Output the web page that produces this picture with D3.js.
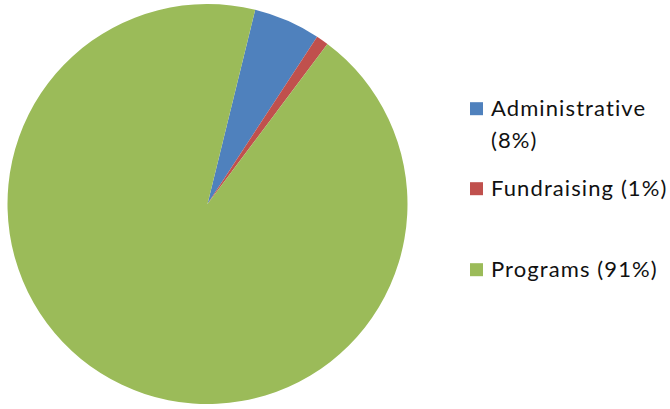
<!DOCTYPE html>
<html><head><meta charset="utf-8">
<script src="https://cdn.jsdelivr.net/npm/d3@7"></script>
<style>body{margin:0;background:#fff}svg{display:block}</style>
</head><body>
<script>
const categories = ["Administrative", "Fundraising", "Programs"];
const legendLabels = [["Administrative", "(8%)"], ["Fundraising (1%)"], ["Programs (91%)"]];
const values = [5.4, 1.0, 93.6];
const colors = ["#4F81BD", "#C0504D", "#9BBB59"];

const W = 670, H = 409;
const cx = 207.5, cy = 204, R = 200;
const startDeg = 13.8;

const svg = d3.select("body").append("svg").attr("width", W).attr("height", H);

const pie = d3.pie().sort(null).value(d => d)
  .startAngle(startDeg * Math.PI / 180)
  .endAngle(startDeg * Math.PI / 180 + 2 * Math.PI);
const arc = d3.arc().innerRadius(0).outerRadius(R);

svg.append("g").attr("transform", `translate(${cx},${cy})`)
  .selectAll("path").data(pie(values)).join("path")
  .attr("d", arc).attr("fill", (d, i) => colors[i]);

const color = d3.scaleOrdinal().domain(categories).range(colors);
const legendY = d3.scaleOrdinal().domain(categories).range([115.7, 195.7, 276.7]);
const lineGap = 32.6;

const lg = svg.append("g").attr("font-family", "Lato, 'Noto Sans', sans-serif")
  .attr("font-size", 22).attr("letter-spacing", 1.1).attr("fill", "#111");
categories.forEach((c, i) => {
  const y = legendY(c);
  lg.append("rect").attr("x", 470).attr("y", y - 13.5).attr("width", 13).attr("height", 13).attr("fill", color(c));
  const t = lg.append("text").attr("x", 491).attr("y", y);
  legendLabels[i].forEach((s, j) => {
    t.append("tspan").attr("x", 491).attr("y", y + j * lineGap).text(s);
  });
});
</script>
</body></html>
